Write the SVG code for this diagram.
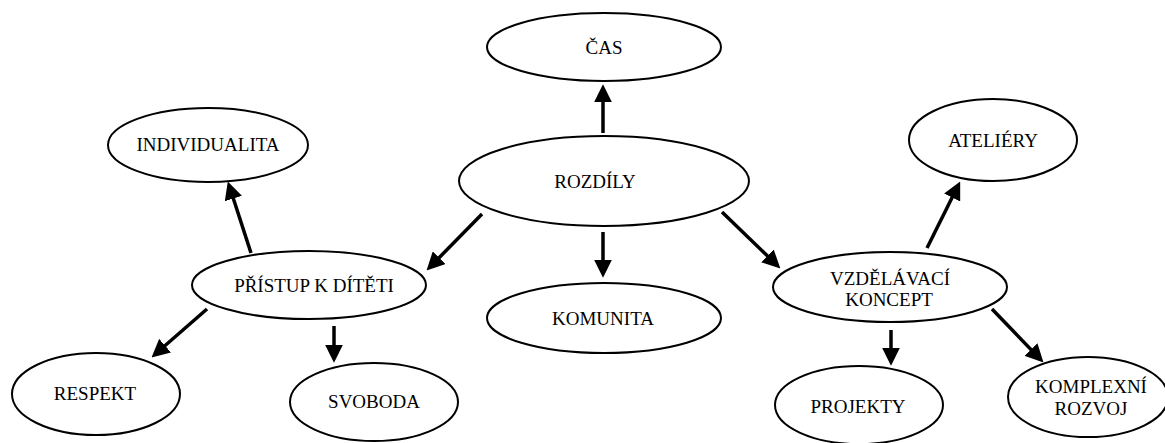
<svg xmlns="http://www.w3.org/2000/svg" width="1165" height="443" viewBox="0 0 1165 443">
<style>
.node ellipse{fill:#fff;stroke:#000;stroke-width:2}
.node text{font-family:'Liberation Serif','Times New Roman','DejaVu Serif',serif;font-size:19px;fill:#000;text-anchor:middle}
.edges line{stroke:#000;stroke-width:3.5;marker-end:url(#ah)}
</style>
<defs>
<marker id="ah" markerUnits="userSpaceOnUse" markerWidth="18" markerHeight="18" refX="6" refY="8.5" orient="auto" viewBox="0 0 17 17">
<path d="M0,0 L17,8.5 L0,17 z" fill="#000"/>
</marker>
</defs>
<rect width="1165" height="443" fill="#fff"/>
<g class="edges">
<line x1="603" y1="133" x2="603" y2="96"/>
<line x1="603" y1="232" x2="603" y2="266"/>
<line x1="482" y1="214" x2="434.7" y2="262.2"/>
<line x1="722" y1="212" x2="772" y2="260.3"/>
<line x1="251" y1="253" x2="231.4" y2="192.5"/>
<line x1="207" y1="309" x2="160.3" y2="349.8"/>
<line x1="334" y1="326" x2="334" y2="351"/>
<line x1="927" y1="248" x2="955" y2="191.8"/>
<line x1="891" y1="330" x2="891" y2="354"/>
<line x1="992" y1="309" x2="1035.4" y2="354.1"/>
</g>
<g id="cas" class="node"><ellipse cx="604" cy="47" rx="117" ry="34"/><text x="604" y="54">ČAS</text></g>
<g id="rozdily" class="node"><ellipse cx="604" cy="181" rx="145" ry="45"/><text x="595" y="188">ROZDÍLY</text></g>
<g id="individualita" class="node"><ellipse cx="208" cy="145" rx="100" ry="37"/><text x="208" y="151">INDIVIDUALITA</text></g>
<g id="ateliery" class="node"><ellipse cx="993" cy="140" rx="84" ry="41"/><text x="993" y="147">ATELIÉRY</text></g>
<g id="pristup" class="node"><ellipse cx="309" cy="285" rx="117" ry="34"/><text x="314" y="292">PŘÍSTUP K DÍTĚTI</text></g>
<g id="komunita" class="node"><ellipse cx="604" cy="318" rx="117" ry="35"/><text x="603" y="325">KOMUNITA</text></g>
<g id="vzdelavaci" class="node"><ellipse cx="890" cy="287" rx="117" ry="35"/><text x="890" y="285">VZDĚLÁVACÍ</text><text x="889" y="306">KONCEPT</text></g>
<g id="respekt" class="node"><ellipse cx="96" cy="394" rx="84" ry="41"/><text x="95" y="400">RESPEKT</text></g>
<g id="svoboda" class="node"><ellipse cx="374" cy="402" rx="84" ry="39"/><text x="374" y="408">SVOBODA</text></g>
<g id="projekty" class="node"><ellipse cx="859" cy="405" rx="84" ry="39"/><text x="858" y="413">PROJEKTY</text></g>
<g id="komplexni" class="node"><ellipse cx="1088" cy="397" rx="80" ry="40"/><text x="1091" y="393">KOMPLEXNÍ</text><text x="1091" y="415">ROZVOJ</text></g>
</svg>
